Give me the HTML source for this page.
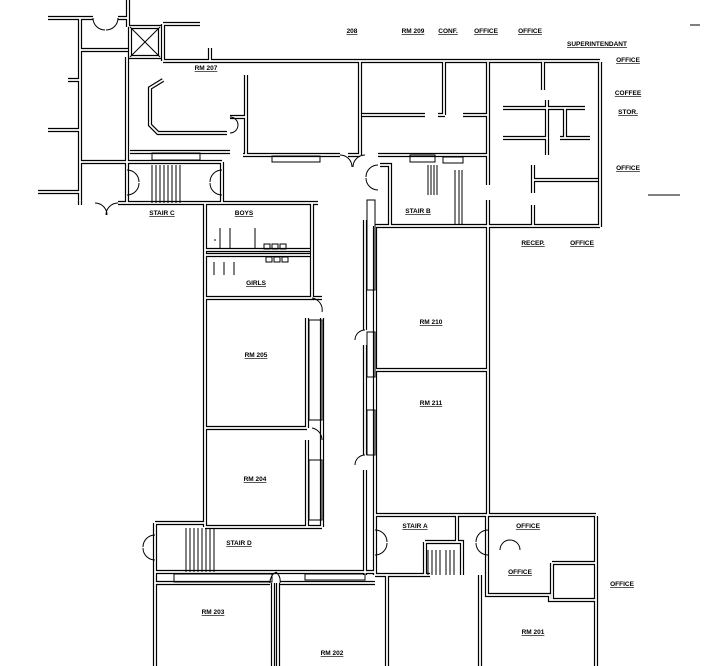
<!DOCTYPE html>
<html><head><meta charset="utf-8"><style>
html,body{margin:0;padding:0;background:#fff;}
svg{display:block;}
text{font-family:"Liberation Sans",sans-serif;font-size:6.5px;font-weight:bold;text-decoration:underline;text-anchor:middle;fill:#000;}
</style></head><body>
<svg width="710" height="666" viewBox="0 0 710 666" xmlns="http://www.w3.org/2000/svg">
<defs>
<path id="w" d="
M48 18 H93 M118 18 H128 M128 0 V18 M80 18 V205 M68 80 H80 M48 130 H80 M38 192 H80
M80 50 H128 M80 162 H125 M128 18 V27
M163 24 H200 M163 24 V61 M210 48 V61 M163 61 H600
M127 57 V203 M130 152 H230 M125 162 H222 M222 162 V203 M118 203 H318
M246 75 V155 M230 117 H246 M243 155 H340 M348 155 H360 M360 61 V155
M378 155 H488 M380 165 H390 V226
M362 115 H425 M438 115 H445 M463 115 H488 M444 62 V115
M488 62 V185 M488 200 V515 M600 62 V227 M375 226 H600
M503 108 H585 M503 138 H548 M560 138 H590 M543 62 V90 M547 100 V155 M565 108 V138
M533 165 V193 M533 180 H598 M533 205 V226
M205 203 V527 M312 203 V298 M205 250 H310 M205 255 H310 M205 298 H322
M307 318 V428 M307 428 H205 M307 440 V527 M322 318 V527 M205 527 H322
M375 226 V515 M375 370 H487 M365 220 V330 M365 345 V455 M365 470 V575
M375 515 H596 M155 523 V666 M155 523 H205 M205 523 V527
M155 572 H375 M155 583 H270 M280 583 H375 M273 583 V666 M278 583 V666
M387 575 V666 M375 515 V575 M375 575 H430 M480 575 V666 M596 516 V666
M487 515 V560 M487 560 V595 H550 V600 H596 M552 563 V600 M552 563 H596
M425 542 H462 V575 M425 542 V575 M457 515 V542
M163 80 L150 88 V125 L158 133 H227
M130 27 H160 V57 H130 Z"/>
</defs>
<use href="#w" stroke="#000" stroke-width="4.2" fill="none"/>
<use href="#w" stroke="#fff" stroke-width="1.8" fill="none"/>
<g stroke="#000" stroke-width="1" fill="none">
<path d="M130 27 L160 57 M160 27 L130 57"/>
<path d="M152 165 V203 M156 165 V203 M160 165 V203 M164 165 V203 M168 165 V203 M172 165 V203 M176 165 V203 M180 165 V203"/>
<path d="M186 528 V572 M190 528 V572 M194 528 V572 M198 528 V572 M202 528 V572 M206 528 V572 M210 528 V572 M214 528 V572"/>
<path d="M428 165 V195 M431 165 V195 M434 165 V195 M437 165 V195 M455 170 V225 M459 170 V225 M462 170 V225"/>
<path d="M428 550 V575 M432 550 V575 M436 550 V575 M440 550 V575 M446 550 V575 M450 550 V575 M454 550 V575"/>
<rect x="174" y="574" width="98" height="8"/><rect x="305" y="574" width="60" height="6"/>
<rect x="152" y="153" width="48" height="7"/><rect x="272" y="156" width="48" height="6"/>
<rect x="410" y="155" width="25" height="7"/><rect x="443" y="157" width="20" height="6"/>
<rect x="309" y="320" width="13" height="100"/><rect x="309" y="460" width="13" height="60"/>
<rect x="367" y="200" width="8" height="90"/><rect x="367" y="332" width="8" height="45"/><rect x="367" y="410" width="8" height="45"/>
<path d="M93 18 A12 12 0 0 0 105 30 M118 18 A12 12 0 0 1 106 30 M95 203 A12 12 0 0 1 107 215 M118 203 A12 12 0 0 0 106 215"/>
<path d="M127 170 A12 12 0 0 1 139 182 M127 195 A12 12 0 0 0 139 183 M222 170 A12 12 0 0 0 210 182 M222 195 A12 12 0 0 1 210 183"/>
<path d="M378 165 A12 12 0 0 0 366 177 M378 190 A12 12 0 0 1 366 178 M340 155 A12 12 0 0 1 352 167 M365 155 A12 12 0 0 0 353 167"/>
<path d="M155 535 A12 12 0 0 0 143 547 M155 560 A12 12 0 0 1 143 548 M375 530 A12 12 0 0 1 387 542 M375 555 A12 12 0 0 0 387 543"/>
<path d="M270 583 A12 12 0 0 1 276 572 M280 583 A12 12 0 0 0 276 572 M365 330 A10 10 0 0 0 355 340 M365 455 A10 10 0 0 0 355 465"/>
<path d="M312 298 A12 12 0 0 1 322 312 M312 428 A12 12 0 0 1 322 440 M230 117 A8 8 0 0 1 230 133"/>
<path d="M488 530 A12 12 0 0 0 476 542 M488 555 A12 12 0 0 1 476 543 M500 550 A10 10 0 0 1 510 540 M520 550 A10 10 0 0 0 510 540"/>
<path d="M214 240 H216 M220 228 V248 M230 228 V248 M255 228 V248 M214 262 V275 M224 262 V275 M234 262 V275"/>
<rect x="264" y="244" width="6" height="5"/><rect x="272" y="244" width="6" height="5"/><rect x="280" y="244" width="6" height="5"/>
<rect x="266" y="257" width="6" height="5"/><rect x="274" y="257" width="6" height="5"/><rect x="282" y="257" width="6" height="5"/>
<path d="M648 195 H680 M690 25 H700"/>
</g>
<text x="352" y="33">208</text><text x="413" y="33">RM 209</text><text x="448" y="33">CONF.</text>
<text x="486" y="33">OFFICE</text><text x="530" y="33">OFFICE</text><text x="597" y="46">SUPERINTENDANT</text>
<text x="628" y="62">OFFICE</text><text x="628" y="95">COFFEE</text><text x="628" y="114">STOR.</text>
<text x="628" y="170">OFFICE</text><text x="533" y="245">RECEP.</text><text x="582" y="245">OFFICE</text>
<text x="206" y="70">RM 207</text><text x="162" y="215">STAIR C</text><text x="418" y="213">STAIR B</text>
<text x="244" y="215">BOYS</text><text x="256" y="285">GIRLS</text><text x="431" y="324">RM 210</text>
<text x="256" y="357">RM 205</text><text x="431" y="405">RM 211</text><text x="255" y="481">RM 204</text>
<text x="415" y="528">STAIR A</text><text x="528" y="528">OFFICE</text><text x="239" y="545">STAIR D</text>
<text x="520" y="574">OFFICE</text><text x="622" y="586">OFFICE</text><text x="213" y="614">RM 203</text>
<text x="332" y="655">RM 202</text><text x="533" y="634">RM 201</text>
</svg>
</body></html>
